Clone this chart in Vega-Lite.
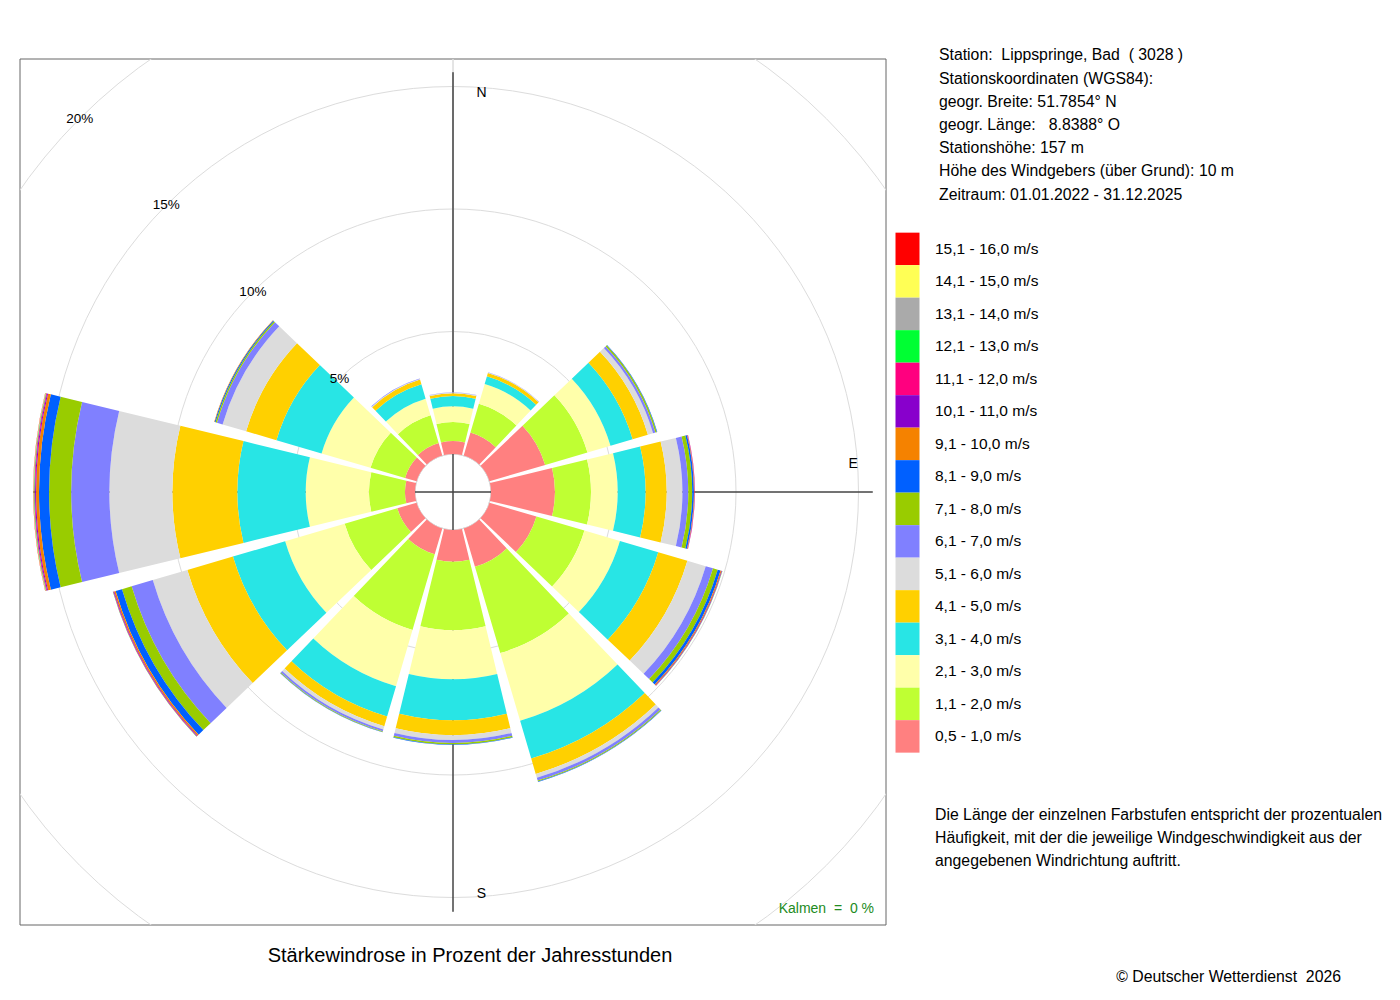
{
  "$schema": "https://vega.github.io/schema/vega-lite/v6.json",
  "width": 866,
  "height": 866,
  "autosize": {"type": "none"},
  "padding": {"left": 20, "top": 59, "right": 514, "bottom": 75},
  "background": "white",
  "config": {
    "font": "Liberation Sans",
    "view": {"stroke": "#666666", "strokeWidth": 1}
  },
  "title": {
    "text": "Stärkewindrose in Prozent der Jahresstunden",
    "orient": "bottom",
    "anchor": "middle",
    "frame": "group",
    "dx": 17,
    "offset": -39,
    "fontSize": 20,
    "fontWeight": "normal",
    "color": "#000000"
  },
  "datasets": {
    "classes": [
      {"k": 1, "s": "0,5 - 1,0 m/s"},
      {"k": 2, "s": "1,1 - 2,0 m/s"},
      {"k": 3, "s": "2,1 - 3,0 m/s"},
      {"k": 4, "s": "3,1 - 4,0 m/s"},
      {"k": 5, "s": "4,1 - 5,0 m/s"},
      {"k": 6, "s": "5,1 - 6,0 m/s"},
      {"k": 7, "s": "6,1 - 7,0 m/s"},
      {"k": 8, "s": "7,1 - 8,0 m/s"},
      {"k": 9, "s": "8,1 - 9,0 m/s"},
      {"k": 10, "s": "9,1 - 10,0 m/s"},
      {"k": 11, "s": "10,1 - 11,0 m/s"},
      {"k": 12, "s": "11,1 - 12,0 m/s"},
      {"k": 13, "s": "12,1 - 13,0 m/s"},
      {"k": 14, "s": "13,1 - 14,0 m/s"},
      {"k": 15, "s": "14,1 - 15,0 m/s"},
      {"k": 16, "s": "15,1 - 16,0 m/s"}
    ],
    "rose": [
      {"d": 0, "k": 1, "p": 0.53}, {"d": 0, "k": 2, "p": 0.78}, {"d": 0, "k": 3, "p": 0.64}, {"d": 0, "k": 4, "p": 0.42},
      {"d": 0, "k": 5, "p": 0.11}, {"d": 0, "k": 6, "p": 0.03}, {"d": 0, "k": 7, "p": 0.01},

      {"d": 30, "k": 1, "p": 0.98}, {"d": 30, "k": 2, "p": 1.22}, {"d": 30, "k": 3, "p": 0.84}, {"d": 30, "k": 4, "p": 0.33},
      {"d": 30, "k": 5, "p": 0.14}, {"d": 30, "k": 6, "p": 0.02}, {"d": 30, "k": 7, "p": 0.01},

      {"d": 60, "k": 1, "p": 2.37}, {"d": 60, "k": 2, "p": 1.80}, {"d": 60, "k": 3, "p": 0.98}, {"d": 60, "k": 4, "p": 0.94},
      {"d": 60, "k": 5, "p": 0.65}, {"d": 60, "k": 6, "p": 0.22}, {"d": 60, "k": 7, "p": 0.10}, {"d": 60, "k": 8, "p": 0.06},
      {"d": 60, "k": 9, "p": 0.02},

      {"d": 90, "k": 1, "p": 2.61}, {"d": 90, "k": 2, "p": 1.47}, {"d": 90, "k": 3, "p": 1.09}, {"d": 90, "k": 4, "p": 1.14},
      {"d": 90, "k": 5, "p": 0.86}, {"d": 90, "k": 6, "p": 0.64}, {"d": 90, "k": 7, "p": 0.24}, {"d": 90, "k": 8, "p": 0.16},
      {"d": 90, "k": 9, "p": 0.07}, {"d": 90, "k": 10, "p": 0.02}, {"d": 90, "k": 11, "p": 0.01}, {"d": 90, "k": 12, "p": 0.01},

      {"d": 120, "k": 1, "p": 2.00}, {"d": 120, "k": 2, "p": 2.04}, {"d": 120, "k": 3, "p": 1.51}, {"d": 120, "k": 4, "p": 1.63},
      {"d": 120, "k": 5, "p": 1.24}, {"d": 120, "k": 6, "p": 0.78}, {"d": 120, "k": 7, "p": 0.31}, {"d": 120, "k": 8, "p": 0.20},
      {"d": 120, "k": 9, "p": 0.12}, {"d": 120, "k": 10, "p": 0.04}, {"d": 120, "k": 11, "p": 0.02}, {"d": 120, "k": 12, "p": 0.01},
      {"d": 120, "k": 13, "p": 0.01},

      {"d": 150, "k": 1, "p": 1.63}, {"d": 150, "k": 2, "p": 3.67}, {"d": 150, "k": 3, "p": 2.88}, {"d": 150, "k": 4, "p": 1.61},
      {"d": 150, "k": 5, "p": 0.65}, {"d": 150, "k": 6, "p": 0.16}, {"d": 150, "k": 7, "p": 0.12}, {"d": 150, "k": 8, "p": 0.04},
      {"d": 150, "k": 9, "p": 0.02},

      {"d": 180, "k": 1, "p": 1.29}, {"d": 180, "k": 2, "p": 2.80}, {"d": 180, "k": 3, "p": 2.00}, {"d": 180, "k": 4, "p": 1.67},
      {"d": 180, "k": 5, "p": 0.61}, {"d": 180, "k": 6, "p": 0.20}, {"d": 180, "k": 7, "p": 0.12}, {"d": 180, "k": 8, "p": 0.06},
      {"d": 180, "k": 9, "p": 0.02},

      {"d": 210, "k": 1, "p": 1.10}, {"d": 210, "k": 2, "p": 3.22}, {"d": 210, "k": 3, "p": 2.39}, {"d": 210, "k": 4, "p": 1.29},
      {"d": 210, "k": 5, "p": 0.41}, {"d": 210, "k": 6, "p": 0.14}, {"d": 210, "k": 7, "p": 0.08}, {"d": 210, "k": 8, "p": 0.03},
      {"d": 210, "k": 9, "p": 0.01},

      {"d": 240, "k": 1, "p": 0.82}, {"d": 240, "k": 2, "p": 2.24}, {"d": 240, "k": 3, "p": 2.53}, {"d": 240, "k": 4, "p": 2.22},
      {"d": 240, "k": 5, "p": 1.94}, {"d": 240, "k": 6, "p": 1.47}, {"d": 240, "k": 7, "p": 0.90}, {"d": 240, "k": 8, "p": 0.41},
      {"d": 240, "k": 9, "p": 0.27}, {"d": 240, "k": 10, "p": 0.06}, {"d": 240, "k": 11, "p": 0.03}, {"d": 240, "k": 12, "p": 0.02},
      {"d": 240, "k": 13, "p": 0.01},

      {"d": 270, "k": 1, "p": 0.41}, {"d": 270, "k": 2, "p": 1.47}, {"d": 270, "k": 3, "p": 2.58}, {"d": 270, "k": 4, "p": 2.79},
      {"d": 270, "k": 5, "p": 2.65}, {"d": 270, "k": 6, "p": 2.57}, {"d": 270, "k": 7, "p": 1.56}, {"d": 270, "k": 8, "p": 0.90},
      {"d": 270, "k": 9, "p": 0.41}, {"d": 270, "k": 10, "p": 0.12}, {"d": 270, "k": 11, "p": 0.04}, {"d": 270, "k": 12, "p": 0.03},
      {"d": 270, "k": 13, "p": 0.02}, {"d": 270, "k": 14, "p": 0.01}, {"d": 270, "k": 15, "p": 0.01}, {"d": 270, "k": 16, "p": 0.01},

      {"d": 300, "k": 1, "p": 0.49}, {"d": 300, "k": 2, "p": 1.47}, {"d": 300, "k": 3, "p": 2.08}, {"d": 300, "k": 4, "p": 1.92},
      {"d": 300, "k": 5, "p": 1.29}, {"d": 300, "k": 6, "p": 1.00}, {"d": 300, "k": 7, "p": 0.24}, {"d": 300, "k": 8, "p": 0.06},
      {"d": 300, "k": 9, "p": 0.04}, {"d": 300, "k": 10, "p": 0.02},

      {"d": 330, "k": 1, "p": 0.53}, {"d": 330, "k": 2, "p": 1.18}, {"d": 330, "k": 3, "p": 0.71}, {"d": 330, "k": 4, "p": 0.61},
      {"d": 330, "k": 5, "p": 0.20}, {"d": 330, "k": 6, "p": 0.03}, {"d": 330, "k": 7, "p": 0.02}
    ]
  },
  "layer": [
    {
      "data": {"values": [{"frame": 1}]},
      "mark": {"type": "rect", "filled": false, "fill": "transparent", "stroke": "#666666", "strokeWidth": 1},
      "encoding": {}
    },
    {
      "data": {"values": [{"p": 5}, {"p": 10}, {"p": 15}, {"p": 20}]},
      "mark": {"type": "arc", "filled": false, "stroke": "#dcdcdc", "strokeWidth": 1, "clip": true},
      "encoding": {
        "theta": {"datum": 0, "type": "quantitative", "scale": {"domain": [0, 360], "range": [0, 6.283185307]}},
        "theta2": {"datum": 360},
        "radius": {"field": "p", "type": "quantitative", "stack": null, "scale": {"type": "linear", "domain": [0, 20], "range": [38, 528], "nice": false}}
      }
    },
    {
      "data": {"values": [{"dir": 0}, {"dir": 90}, {"dir": 180}, {"dir": 270}]},
      "mark": {"type": "arc", "filled": false, "stroke": "#444444", "strokeWidth": 1},
      "encoding": {
        "theta": {"field": "dir", "type": "quantitative", "stack": null},
        "theta2": {"field": "dir"},
        "radius": {"datum": 15.58, "type": "quantitative"},
        "radius2": {"value": 0}
      }
    },
    {
      "data": {"name": "rose"},
      "transform": [
        {"lookup": "k", "from": {"data": {"name": "classes"}, "key": "k", "fields": ["s"]}},
        {"stack": "p", "groupby": ["d"], "sort": [{"field": "k", "order": "ascending"}], "as": ["r0", "r1"]}
      ],
      "mark": {"type": "arc", "thetaOffset": -0.2382, "theta2Offset": 0.2382},
      "encoding": {
        "theta": {"field": "d", "type": "quantitative", "stack": null},
        "theta2": {"field": "d"},
        "radius": {"field": "r1", "type": "quantitative", "stack": null},
        "radius2": {"field": "r0"},
        "color": {
          "field": "s",
          "type": "nominal",
          "scale": {
            "domain": ["15,1 - 16,0 m/s", "14,1 - 15,0 m/s", "13,1 - 14,0 m/s", "12,1 - 13,0 m/s", "11,1 - 12,0 m/s", "10,1 - 11,0 m/s", "9,1 - 10,0 m/s", "8,1 - 9,0 m/s", "7,1 - 8,0 m/s", "6,1 - 7,0 m/s", "5,1 - 6,0 m/s", "4,1 - 5,0 m/s", "3,1 - 4,0 m/s", "2,1 - 3,0 m/s", "1,1 - 2,0 m/s", "0,5 - 1,0 m/s"],
            "range": ["#FF0000", "#FFFF55", "#AAAAAA", "#00FF33", "#FF007F", "#8800CC", "#F58200", "#0060FF", "#99CC00", "#8080FF", "#DCDCDC", "#FFD000", "#28E5E5", "#FFFFAA", "#BFFF33", "#FF8080"]
          },
          "legend": {
            "orient": "none",
            "legendX": 919,
            "legendY": -10.6,
            "padding": 0,
            "title": [
              "Station:\u00a0 Lippspringe, Bad\u00a0 ( 3028 )",
              "Stationskoordinaten (WGS84):",
              "geogr. Breite: 51.7854° N",
              "geogr. Länge:\u00a0\u00a0\u00a08.8388° O",
              "Stationshöhe: 157 m",
              "Höhe des Windgebers (über Grund): 10 m",
              "Zeitraum: 01.01.2022 - 31.12.2025"
            ],
            "titleFontSize": 15.8,
            "titleFontWeight": "normal",
            "titleColor": "#000000",
            "titleLineHeight": 23.2,
            "titlePadding": 30.5,
            "titleAlign": "left",
            "titleAnchor": "start",
            "titleBaseline": "top",
            "titleLimit": 500,
            "symbolType": "M-0.8,-1.0833H0.8V1.0833H-0.8Z",
            "symbolSize": 900,
            "symbolStrokeWidth": 0,
            "symbolOpacity": 1,
            "symbolOffset": -46.5,
            "labelOffset": 12.5,
            "labelFontSize": 15.5,
            "labelColor": "#000000",
            "labelLimit": 300,
            "rowPadding": -1.5
          }
        }
      }
    },
    {
      "data": {"values": [{"p": 5, "lab": "5%"}, {"p": 10, "lab": "10%"}, {"p": 15, "lab": "15%"}, {"p": 20, "lab": "20%"}]},
      "mark": {"type": "text", "fontSize": 13.5, "align": "center", "baseline": "middle", "color": "#000000"},
      "encoding": {
        "theta": {"datum": 315, "type": "quantitative"},
        "radius": {"field": "p", "type": "quantitative", "stack": null},
        "text": {"field": "lab"}
      }
    },
    {
      "data": {"values": [{"dir": 0, "lab": "N"}, {"dir": 180, "lab": "S"}]},
      "mark": {"type": "text", "fontSize": 14, "align": "center", "baseline": "middle", "dx": 28.5, "dy": 1.5, "color": "#000000"},
      "encoding": {
        "theta": {"field": "dir", "type": "quantitative", "stack": null},
        "radius": {"datum": 14.78, "type": "quantitative"},
        "text": {"field": "lab"}
      }
    },
    {
      "data": {"values": [{"dir": 90, "lab": "E"}]},
      "mark": {"type": "text", "fontSize": 14, "align": "center", "baseline": "middle", "dy": -28, "color": "#000000"},
      "encoding": {
        "theta": {"field": "dir", "type": "quantitative", "stack": null},
        "radius": {"datum": 14.78, "type": "quantitative"},
        "text": {"field": "lab"}
      }
    },
    {
      "data": {"values": [{"t": "Kalmen\u00a0 =\u00a0 0 %"}]},
      "mark": {"type": "text", "x": "width", "y": "height", "dx": -12, "dy": -12.4, "align": "right", "baseline": "alphabetic", "fontSize": 14, "color": "#228B22"},
      "encoding": {"text": {"field": "t"}}
    },
    {
      "data": {"values": [{"t": ["Die Länge der einzelnen Farbstufen entspricht der prozentualen", "Häufigkeit, mit der die jeweilige Windgeschwindigkeit aus der", "angegebenen Windrichtung auftritt."]}]},
      "mark": {"type": "text", "x": "width", "y": "height", "dx": 49, "dy": -105.5, "align": "left", "baseline": "alphabetic", "fontSize": 15.8, "lineHeight": 23, "color": "#000000"},
      "encoding": {"text": {"field": "t"}}
    },
    {
      "data": {"values": [{"t": "© Deutscher Wetterdienst\u00a0 2026"}]},
      "mark": {"type": "text", "x": "width", "y": "height", "dx": 455, "dy": 57, "align": "right", "baseline": "alphabetic", "fontSize": 15.8, "color": "#000000"},
      "encoding": {"text": {"field": "t"}}
    }
  ]
}
